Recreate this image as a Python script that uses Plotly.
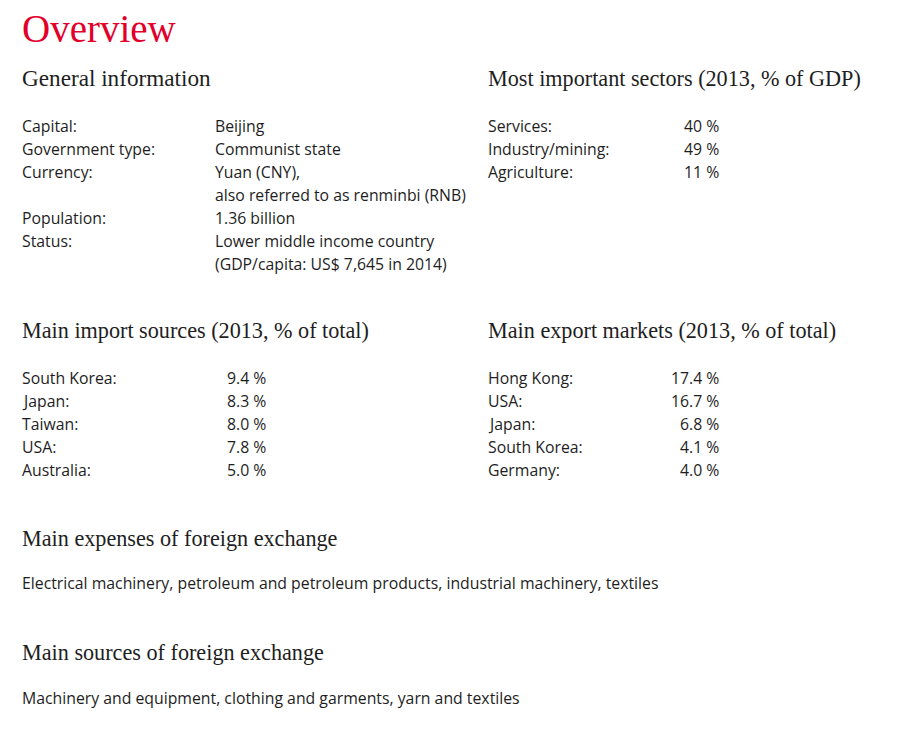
import plotly.graph_objects as go

title = "Overview"

general_heading = "General information"
general_labels = ["Capital:", "Government type:", "Currency:", "", "Population:", "Status:", ""]
general_values = ["Beijing", "Communist state", "Yuan (CNY),", "also referred to as renminbi (RNB)",
                  "1.36 billion", "Lower middle income country", "(GDP/capita: US$ 7,645 in 2014)"]

sectors_heading = "Most important sectors (2013, % of GDP)"
sector_names = ["Services:", "Industry/mining:", "Agriculture:"]
sector_values = [40, 49, 11]

import_heading = "Main import sources (2013, % of total)"
import_countries = ["South Korea:", "Japan:", "Taiwan:", "USA:", "Australia:"]
import_values = [9.4, 8.3, 8.0, 7.8, 5.0]

export_heading = "Main export markets (2013, % of total)"
export_countries = ["Hong Kong:", "USA:", "Japan:", "South Korea:", "Germany:"]
export_values = [17.4, 16.7, 6.8, 4.1, 4.0]

expenses_heading = "Main expenses of foreign exchange"
expenses_text = "Electrical machinery, petroleum and petroleum products, industrial machinery, textiles"

sources_heading = "Main sources of foreign exchange"
sources_text = "Machinery and equipment, clothing and garments, yarn and textiles"

W, H = 904, 741
DY = -8   # compensate page body margin
RED = "#e2002b"
DARK = "#1e1e1e"
SERIF = "Liberation Serif, DejaVu Serif, serif"
SANS = "Open Sans, Noto Sans, sans-serif"
ROW = 23

ann = []


def text(x, y, s, size, font, color=DARK, anchor="left"):
    dx = -10 if anchor == "left" else -6
    ann.append(dict(x=x + dx, y=y + DY, xref="x", yref="y", text=s, showarrow=False,
                    xanchor=anchor, yanchor="middle",
                    font=dict(family=font, size=size, color=color)))


def heading(x, y, s, size=22.2):
    text(x, y, s, size, SERIF)


def body(x, y, s, anchor="left"):
    text(x, y, s, 15.8, SANS, anchor=anchor)


text(22, 28, title, 39, SERIF, color=RED)

heading(22, 78, general_heading, 23.2)
for i, (lab, val) in enumerate(zip(general_labels, general_values)):
    y = 126 + i * ROW
    if lab:
        body(22, y, lab)
    body(215, y, val)

heading(488, 78, sectors_heading)
for i, (lab, val) in enumerate(zip(sector_names, sector_values)):
    y = 126 + i * ROW
    body(488, y, lab)
    body(719, y, f"{val} %", anchor="right")

heading(22, 330, import_heading)
for i, (lab, val) in enumerate(zip(import_countries, import_values)):
    y = 378 + i * ROW
    body(22, y, lab)
    body(266, y, f"{val:.1f} %", anchor="right")

heading(488, 330, export_heading)
for i, (lab, val) in enumerate(zip(export_countries, export_values)):
    y = 378 + i * ROW
    body(488, y, lab)
    body(719, y, f"{val:.1f} %", anchor="right")

heading(22, 538, expenses_heading)
body(22, 583, expenses_text)

heading(22, 652, sources_heading)
body(22, 698, sources_text)

fig = go.Figure()
fig.update_layout(
    width=W, height=H,
    margin=dict(l=0, r=0, t=0, b=0),
    paper_bgcolor="white", plot_bgcolor="white",
    xaxis=dict(range=[0, W], visible=False, fixedrange=True),
    yaxis=dict(range=[H, 0], visible=False, fixedrange=True),
    annotations=ann,
    showlegend=False,
)
fig.write_html("out.html")
